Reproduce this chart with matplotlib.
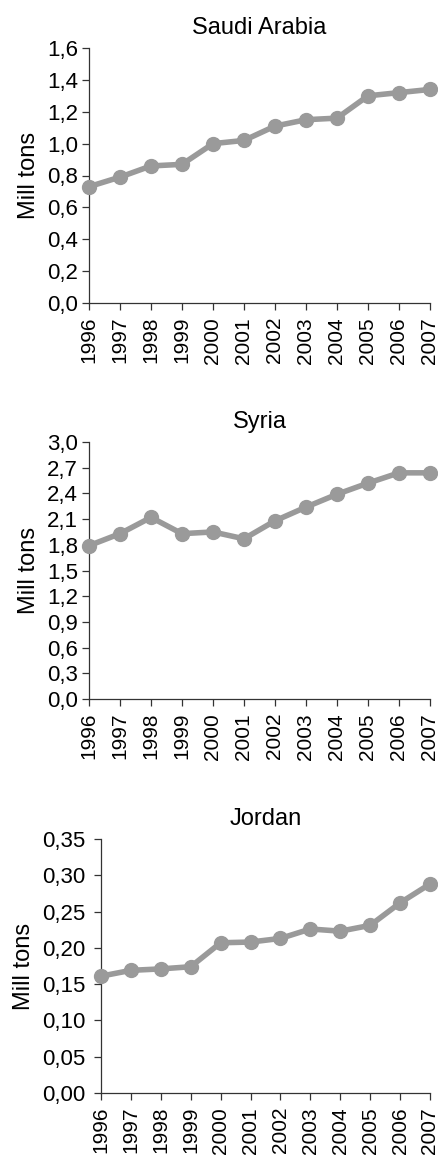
import matplotlib
matplotlib.use("Agg")
import numpy as np
import matplotlib.pyplot as plt
from matplotlib.ticker import FuncFormatter

plt.rcParams['font.family'] = ['Liberation Sans', 'DejaVu Sans']

years = list(range(1996, 2008))
saudi = [0.73, 0.79, 0.86, 0.87, 1.00, 1.02, 1.11, 1.15, 1.16, 1.30, 1.32, 1.34]
syria = [1.79, 1.93, 2.12, 1.93, 1.95, 1.87, 2.08, 2.24, 2.39, 2.52, 2.64, 2.64]
jordan = [0.161, 0.169, 0.171, 0.174, 0.207, 0.208, 0.213, 0.226, 0.223, 0.231, 0.262, 0.288]

saudi_ticks = [0.0, 0.2, 0.4, 0.6, 0.8, 1.0, 1.2, 1.4, 1.6]
syria_ticks = [0.0, 0.3, 0.6, 0.9, 1.2, 1.5, 1.8, 2.1, 2.4, 2.7, 3.0]
jordan_ticks = [0.0, 0.05, 0.10, 0.15, 0.20, 0.25, 0.30, 0.35]

W, H = 438, 1159
fig = plt.figure(figsize=(W / 100, H / 100), dpi=100)

panels = [
    ("Saudi Arabia", saudi, saudi_ticks, 1, 3, (89, 48, 430, 303)),
    ("Syria", syria, syria_ticks, 1, 3, (89, 442, 430, 699)),
    ("Jordan", jordan, jordan_ticks, 2, 6, (101, 839, 430, 1093)),
]

for title, vals, ticks, dec, ypad, (l, t, r, b) in panels:
    ax = fig.add_axes([l / W, 1 - b / H, (r - l) / W, (b - t) / H])
    ax.plot(years, vals, color='#9a9a9a', lw=4, marker='o', ms=10,
            clip_on=False, zorder=3, solid_joinstyle='round')
    ax.set_xlim(1996, 2007)
    ax.set_ylim(ticks[0], ticks[-1])
    ax.set_yticks(ticks)
    ax.yaxis.set_major_formatter(FuncFormatter(
        lambda v, p, d=dec: f"{v:.{d}f}".replace('.', ',')))
    ax.set_xticks(years)
    ax.set_xticklabels([str(y) for y in years], rotation=90)
    for s in ('top', 'right'):
        ax.spines[s].set_visible(False)
    for s in ('left', 'bottom'):
        ax.spines[s].set_color('#333333')
        ax.spines[s].set_linewidth(0.9)
    ax.tick_params(direction='out', length=5, width=0.9, color='#333333')
    ax.tick_params(axis='y', pad=ypad, labelsize=16)
    ax.tick_params(axis='x', pad=5, labelsize=15)
    ax.set_ylabel("Mill tons", fontsize=17, labelpad=5)
    ax.set_title(title, fontsize=17, pad=10)

fig.savefig("out.png", dpi=100)
